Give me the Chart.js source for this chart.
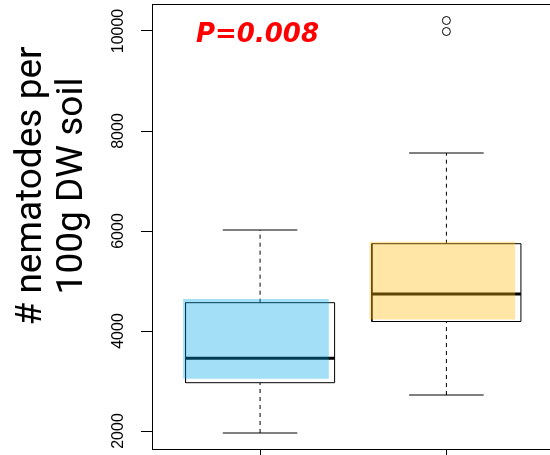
<!DOCTYPE html>
<html>
<head>
<meta charset="utf-8">
<script src="https://cdn.jsdelivr.net/npm/chart.js@4/dist/chart.umd.min.js"></script>
<style>
html, body { margin: 0; padding: 0; background: #ffffff; overflow: hidden; }
canvas { display: block; }
</style>
</head>
<body>
<canvas id="c" width="550" height="455"></canvas>
<script>
// ---- data ----
const categories = ['Group 1', 'Group 2'];
const positions = [1, 2];
const lowerWhisker = [1960, 2720];
const lowerQuartile = [2966, 4190];
const medians = [3453, 4740];
const upperQuartile = [4566, 5746];
const upperWhisker = [6020, 7560];
const outliers = [[], [9990, 10210]];
const shadeCenter = [0.978, 1.978];
const shadeLow = [3047, 4232];
const shadeHigh = [4640, 5786];
const yTicks = [2000, 4000, 6000, 8000, 10000];
const yTitleLines = ['# nematodes per', '100g DW soil'];
const pLabel = 'P=0.008';

// ---- styling ----
const BOX_HALF = 0.4;
const CAP_HALF = 0.2;
const shadeColors = ['rgba(0,170,235,0.36)', 'rgba(255,188,15,0.37)'];
const lineBase = { type: 'line', pointRadius: 0, pointHoverRadius: 0, fill: false, tension: 0, borderColor: '#000000' };

const datasets = [];
datasets.push({
  type: 'bar',
  label: 'shade',
  data: shadeCenter.map((x, i) => ({ x: x, y: [shadeLow[i], shadeHigh[i]] })),
  backgroundColor: shadeColors,
  borderWidth: 0,
  barPercentage: 0.782,
  categoryPercentage: 1,
  order: 0
});
datasets.push({
  type: 'scatter',
  label: 'outliers',
  data: outliers.flatMap((arr, i) => arr.map(v => ({ x: positions[i], y: v }))),
  showLine: false,
  pointRadius: 4,
  pointHoverRadius: 4,
  pointBorderWidth: 1,
  pointBorderColor: '#000000',
  pointBackgroundColor: 'rgba(0,0,0,0)',
  order: 1
});
positions.forEach((p, i) => {
  datasets.push(Object.assign({}, lineBase, {
    label: categories[i] + ' median',
    data: [{ x: p - BOX_HALF, y: medians[i] }, { x: p + BOX_HALF, y: medians[i] }],
    borderWidth: 3, order: 2
  }));
  datasets.push(Object.assign({}, lineBase, {
    label: categories[i] + ' upper cap',
    data: [{ x: p - CAP_HALF, y: upperWhisker[i] }, { x: p + CAP_HALF, y: upperWhisker[i] }],
    borderWidth: 1, order: 3
  }));
  datasets.push(Object.assign({}, lineBase, {
    label: categories[i] + ' lower cap',
    data: [{ x: p - CAP_HALF, y: lowerWhisker[i] }, { x: p + CAP_HALF, y: lowerWhisker[i] }],
    borderWidth: 1, order: 3
  }));
  datasets.push(Object.assign({}, lineBase, {
    label: categories[i] + ' upper whisker',
    data: [{ x: p, y: upperQuartile[i] }, { x: p, y: upperWhisker[i] }],
    borderWidth: 1, borderDash: [4, 4], order: 4
  }));
  datasets.push(Object.assign({}, lineBase, {
    label: categories[i] + ' lower whisker',
    data: [{ x: p, y: lowerWhisker[i] }, { x: p, y: lowerQuartile[i] }],
    borderWidth: 1, borderDash: [4, 4], order: 4
  }));
  datasets.push(Object.assign({}, lineBase, {
    label: categories[i] + ' box',
    data: [
      { x: p - BOX_HALF, y: lowerQuartile[i] },
      { x: p + BOX_HALF, y: lowerQuartile[i] },
      { x: p + BOX_HALF, y: upperQuartile[i] },
      { x: p - BOX_HALF, y: upperQuartile[i] },
      { x: p - BOX_HALF, y: lowerQuartile[i] }
    ],
    borderWidth: 1, order: 5
  }));
});

const framePlugin = {
  id: 'frame',
  afterDraw(chart) {
    const { ctx, chartArea: a } = chart;
    ctx.save();
    ctx.strokeStyle = '#000000';
    ctx.lineWidth = 1;
    ctx.beginPath();
    ctx.moveTo(a.left, a.top + 0.5);
    ctx.lineTo(a.right, a.top + 0.5);
    ctx.stroke();
    ctx.restore();
  }
};

const textPlugin = {
  id: 'texts',
  afterDraw(chart, args, opts) {
    const ctx = chart.ctx;
    ctx.save();
    // y axis title, two rotated lines
    ctx.fillStyle = '#000000';
    ctx.font = '37px Roboto, "Open Sans", sans-serif';
    ctx.textAlign = 'center';
    ctx.textBaseline = 'alphabetic';
    yTitleLines.forEach((line, k) => {
      ctx.save();
      ctx.translate(opts.titleBaselines[k], opts.titleCenterY);
      ctx.rotate(-Math.PI / 2);
      ctx.fillText(line, 0, 0);
      ctx.restore();
    });
    // P value annotation
    const xs = chart.scales.x, ys = chart.scales.y;
    ctx.fillStyle = '#ff0000';
    ctx.font = 'italic bold 26px "DejaVu Sans", Verdana, sans-serif';
    ctx.textAlign = 'left';
    ctx.fillText(pLabel, xs.getPixelForValue(opts.pAt.x), ys.getPixelForValue(opts.pAt.y));
    ctx.restore();
  }
};

new Chart(document.getElementById('c'), {
  type: 'scatter',
  data: { datasets: datasets },
  options: {
    responsive: false,
    animation: false,
    devicePixelRatio: 1,
    events: [],
    layout: { autoPadding: false, padding: { top: 4, left: 0, right: 0, bottom: 0 } },
    plugins: {
      legend: { display: false },
      tooltip: { enabled: false },
      texts: { titleBaselines: [41, 82], titleCenterY: 186, pAt: { x: 0.656, y: 9775 } }
    },
    scales: {
      x: {
        type: 'linear',
        min: 0.42,
        max: 2.556,
        offset: false,
        afterBuildTicks: s => { s.ticks = positions.map(v => ({ value: v })); },
        afterFit: s => { s.height = 6; s.paddingLeft = 0; s.paddingRight = 0; s.paddingTop = 0; s.paddingBottom = 0; },
        ticks: { display: false },
        grid: { display: true, offset: false, drawOnChartArea: false, drawTicks: true, tickLength: 7, color: '#000000', lineWidth: 1 },
        border: { display: true, color: '#000000', width: 1 }
      },
      y: {
        type: 'linear',
        min: 1640,
        max: 10540,
        afterBuildTicks: s => { s.ticks = yTicks.map(v => ({ value: v })); },
        afterFit: s => { s.width = 152; s.paddingLeft = 0; s.paddingRight = 0; s.paddingTop = 0; s.paddingBottom = 0; },
        ticks: {
          autoSkip: false,
          minRotation: 90,
          maxRotation: 90,
          crossAlign: 'center',
          padding: 0,
          color: '#000000',
          font: { family: '"Liberation Sans", Arial, sans-serif', size: 16 },
          callback: v => String(v)
        },
        grid: { display: true, offset: false, drawOnChartArea: false, drawTicks: true, tickLength: 11, color: '#000000', lineWidth: 1 },
        border: { display: true, color: '#000000', width: 1 }
      }
    }
  },
  plugins: [framePlugin, textPlugin]
});
</script>
</body>
</html>
